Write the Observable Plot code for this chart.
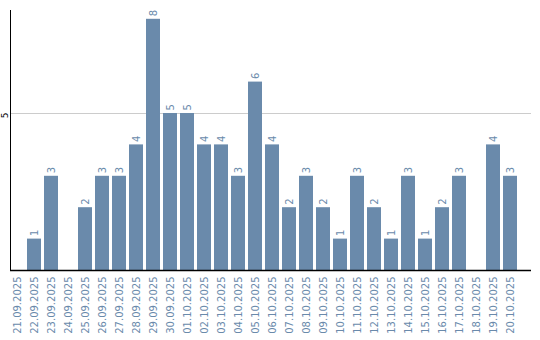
<!DOCTYPE html>
<html>
<head>
<meta charset="utf-8">
<script src="https://cdn.jsdelivr.net/npm/d3@7"></script>
<script src="https://cdn.jsdelivr.net/npm/@observablehq/plot@0.6"></script>
<style>
  body { margin: 0; background: #fff; }
</style>
</head>
<body>
<div id="chart"></div>
<script>
const dates = ["21.09.2025","22.09.2025","23.09.2025","24.09.2025","25.09.2025","26.09.2025","27.09.2025","28.09.2025","29.09.2025","30.09.2025","01.10.2025","02.10.2025","03.10.2025","04.10.2025","05.10.2025","06.10.2025","07.10.2025","08.10.2025","09.10.2025","10.10.2025","11.10.2025","12.10.2025","13.10.2025","14.10.2025","15.10.2025","16.10.2025","17.10.2025","18.10.2025","19.10.2025","20.10.2025"];
const counts = [0,1,3,0,2,3,3,4,8,5,5,4,4,3,6,4,2,3,2,1,3,2,1,3,1,2,3,0,4,3];
const yTicks = [5];

const data = dates.map((d, i) => ({date: d, count: counts[i]}));
const blue = "#6a8aab";

const chart = Plot.plot({
  width: 540,
  height: 340,
  marginLeft: 10,
  marginRight: 9,
  marginTop: 10,
  marginBottom: 70,
  style: {fontFamily: "DejaVu Sans", fontSize: "10px", background: "#fff", overflow: "visible"},
  x: {domain: dates, paddingInner: 0.18, paddingOuter: 0.41, align: 0, label: null, axis: null},
  y: {domain: [0, 8.28], label: null, axis: null},
  marks: [
    Plot.ruleY(yTicks, {stroke: "#cccccc", strokeWidth: 1}),
    Plot.barY(data, {x: "date", y: "count", fill: blue}),
    Plot.text(data.filter(d => d.count > 0), {x: "date", y: "count", text: d => String(d.count), rotate: -90, textAnchor: "start", dy: -3, fill: blue, fontSize: 10}),
    Plot.axisX({tickRotate: -90, tickSize: 0, tickPadding: 6, fill: blue, fontSize: 10, label: null}),
    Plot.text(yTicks, {y: d => d, text: d => String(d), frameAnchor: "left", dx: -5, dy: 2, rotate: -90, textAnchor: "middle", lineAnchor: "middle", fill: "#000", fontSize: 9}),
    Plot.frame({anchor: "left", stroke: "#000", strokeOpacity: 1}),
    Plot.ruleY([0], {stroke: "#000", strokeWidth: 1.5})
  ]
});
document.getElementById("chart").appendChild(chart);
</script>
</body>
</html>
